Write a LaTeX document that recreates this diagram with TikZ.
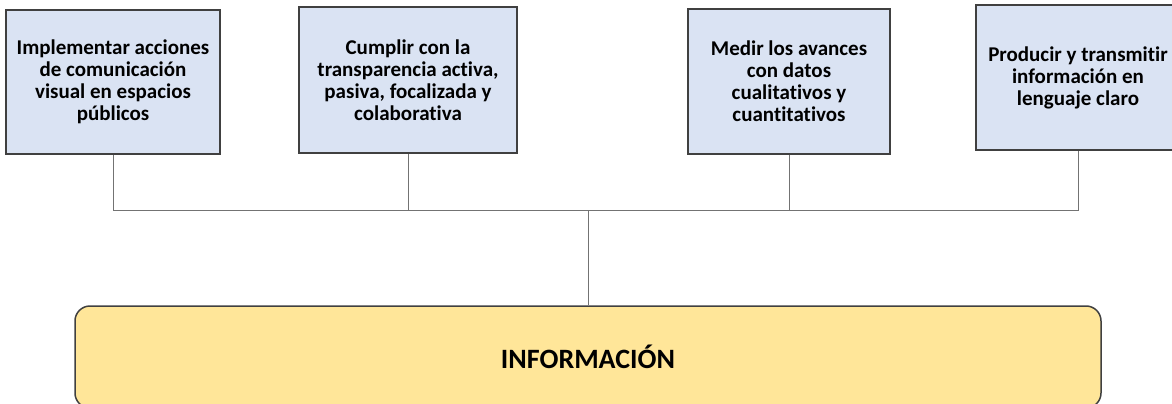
\documentclass[tikz,border=0pt]{standalone}
\usepackage{fontspec}
\setmainfont{Carlito}[Ligatures=NoCommon]

\begin{document}
\begin{tikzpicture}[x=1pt, y=-1pt,
	meta/.style={draw=black!75, line width=1.5pt, fill=metafill, align=center, inner sep=0pt, minimum height=145pt, font=\fontsize{21}{22}\selectfont\bfseries},
	eje/.style={draw=black!75, line width=1.5pt, fill=ejefill, rounded corners=15pt, inner sep=0pt, minimum width=1026pt, minimum height=102pt, font=\fontsize{28}{30}\selectfont\bfseries},
	rama/.style={draw=black!55, line width=1pt}]
	\useasboundingbox (0, 0) rectangle (1172, 404);
	\definecolor{metafill}{HTML}{DAE3F3}
	\definecolor{ejefill}{HTML}{FFE699}

	\node[meta, minimum width=214pt, minimum height=144pt] (accion) at (113, 82) {Implementar acciones\\de comunicación\\visual en espacios\\públicos};
	\node[meta, minimum width=218pt, minimum height=146pt] (transp) at (408, 80) {Cumplir con la\\transparencia activa,\\pasiva, focalizada y\\colaborativa};
	\node[meta, minimum width=202pt] (medir) at (789, 81.5) {Medir los avances\\con datos\\cualitativos y\\cuantitativos};
	\node[meta, minimum width=204pt] (claro) at (1078, 77.5) {Producir y transmitir\\información en\\lenguaje claro};

	\node[eje] (info) at (588, 357) {INFORMACIÓN};

	\coordinate (bus) at (588, 210);
	\draw[rama] (accion.south) |- (bus);
	\draw[rama] (transp.south) |- (bus);
	\draw[rama] (medir.south) |- (bus);
	\draw[rama] (claro.south) |- (bus);
	\draw[rama] (bus) -- (info.north);
\end{tikzpicture}
\end{document}
